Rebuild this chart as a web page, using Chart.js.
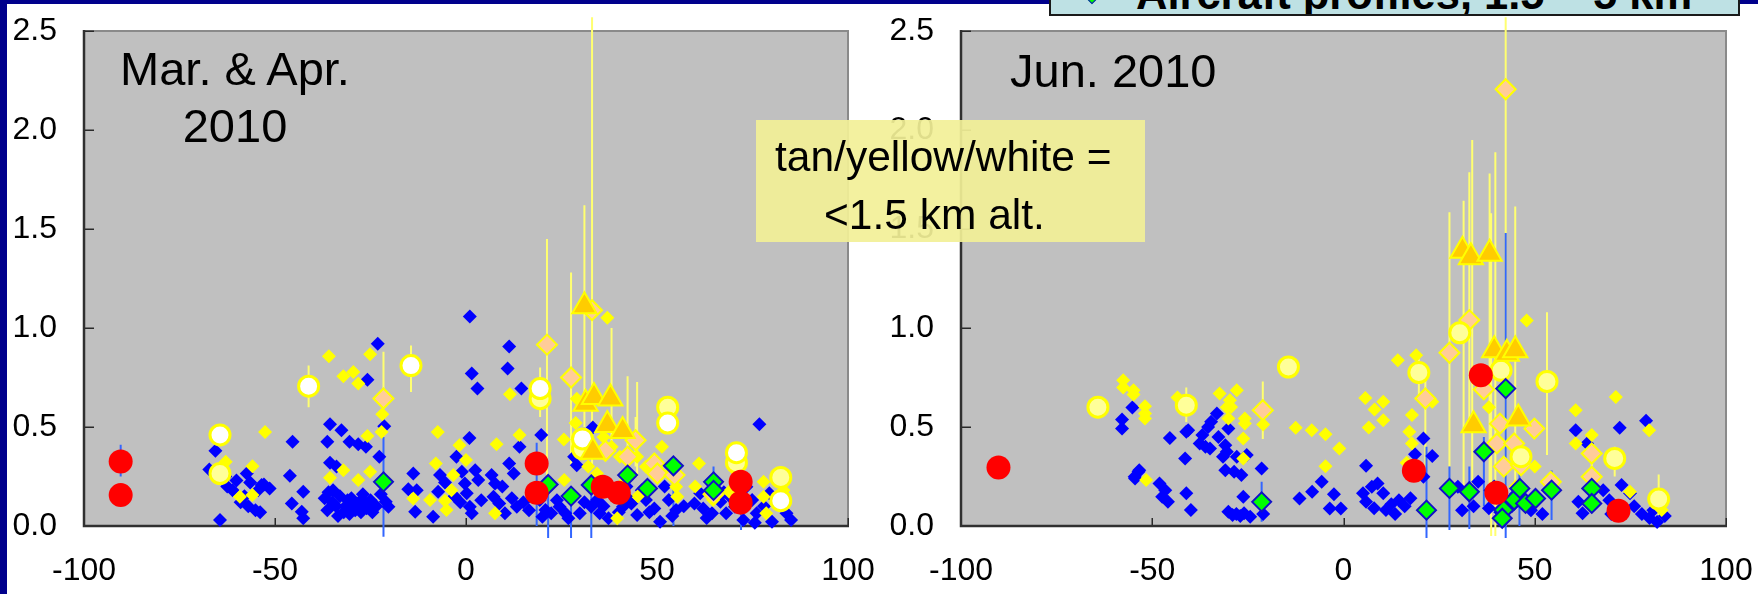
<!DOCTYPE html>
<html>
<head>
<meta charset="utf-8">
<title>Aerosol scatter, Mar./Apr. and Jun. 2010</title>
<script src="https://cdn.jsdelivr.net/npm/chart.js@4.4.1/dist/chart.umd.min.js"></script>
<style>
  html, body { margin: 0; padding: 0; width: 1758px; height: 594px; overflow: hidden; background: #ffffff; }
  body { font-family: "Liberation Sans", Arial, Helvetica, sans-serif; color: #000; position: relative; }
  canvas.panel { position: absolute; top: 0; z-index: 1; }
  #marApr { left: 0; }
  #jun { left: 878px; }
  .navy-top { position: absolute; left: 0; top: 0; width: 1758px; height: 4px; background: #00008c; z-index: 3; }
  .navy-left { position: absolute; left: 0; top: 0; width: 7px; height: 594px; background: #00008c; z-index: 3; }
  .title { position: absolute; font-size: 47px; line-height: 1; white-space: nowrap; z-index: 2; }
  .note { position: absolute; left: 756px; top: 120px; width: 389px; height: 122px; background: rgba(242, 240, 151, 0.92); z-index: 2; }
  .note-line { position: absolute; font-size: 42.5px; line-height: 1; white-space: nowrap; z-index: 3; }
  .key { position: absolute; left: 1049px; top: -20px; width: 691px; height: 36px; box-sizing: border-box;
         border: 2px solid #1a1a1a; background: #bee1e4; overflow: hidden; z-index: 4; }
  .key-mark { position: absolute; left: 37.5px; top: 14.5px; width: 4px; height: 4px; background: #00ff00;
              border: 1.5px solid #1010c8; transform: rotate(45deg); }
  .key-text { position: absolute; left: 85px; top: -9.5px; font-size: 43.5px; font-weight: bold; line-height: 1; white-space: nowrap; }
</style>
</head>
<body>
<canvas id="marApr" class="panel" width="880" height="594"></canvas>
<canvas id="jun" class="panel" width="880" height="594"></canvas>

<div class="navy-top"></div>
<div class="navy-left"></div>

<div class="title" style="left:95px; top:45px; width:280px; text-align:center;">Mar. &amp; Apr.</div>
<div class="title" style="left:95px; top:102px; width:280px; text-align:center;">2010</div>
<div class="title" style="left:1010px; top:47px;">Jun. 2010</div>

<div class="note"></div>
<div class="note-line" style="left:775px; top:135.5px;">tan/yellow/white =</div>
<div class="note-line" style="left:824px; top:193.5px;">&lt;1.5 km alt.</div>

<div class="key"><div class="key-mark"></div><div class="key-text">Aircraft profiles, 1.5 – 5 km</div></div>

<script>
// ---------- axes ----------
const xRange = [-100, 100];
const xTickStep = 10;
const xTickLabels = [-100, -50, 0, 50, 100];
const yRange = [0, 2.5];
const yTickStep = 0.5;

// ---------- Mar. & Apr. 2010 ----------
const marAprBlue = [
  [-67.2,0.285],[-65.6,0.38],[-64.4,0.03],[-63,0.25],[-62.5,0.2],[-61.1,0.18],[-60.1,0.23],[-59,0.12],
  [-58,0.15],[-57.4,0.265],[-57,0.1],[-56.5,0.22],[-55.1,0.08],[-54.4,0.18],[-53.9,0.07],[-53.5,0.207],
  [-52.9,0.21],[-51.4,0.19],[-46.1,0.254],[-45.4,0.425],[-45.6,0.114],[-43,0.072],[-42.6,0.173],[-42.6,0.039],
  [-37,0.14],[-36.3,0.425],[-35.6,0.514],[-32.6,0.484],[-30.5,0.425],[-28.2,0.413],[-26.2,0.4],[-35.6,0.319],
  [-33.9,0.3],[-36.3,0.08],[-34.8,0.18],[-33,0.15],[-35,0.12],[-31.5,0.1],[-30,0.14],[-29,0.08],[-28,0.12],
  [-27,0.16],[-26,0.09],[-25,0.13],[-24.5,0.07],[-32,0.07],[-33.5,0.05],[-30.5,0.06],
  [-34,0.1],[-31,0.13],[-29.5,0.11],[-27.5,0.07],[-26.5,0.12],[-23.5,0.1],[-36,0.17],
  [-25.8,0.739],[-23.1,0.92],[-22.7,0.35],[-21.4,0.504],[-21,0.123],[-20.3,0.097],[-22.3,0.16],
  [-13.8,0.265],[-15.1,0.185],[-12.9,0.181],[-13.3,0.072],[-8.6,0.047],[-7.3,0.173],[-6.8,0.257],[-5.5,0.22],
  [-3,0.15],[-2.5,0.35],[-1.5,0.12],[-1.1,0.274],[-0.3,0.215],[0.2,0.165],[1.0,0.097],[1.5,0.064],[2.4,0.282],
  [3.2,0.232],[4,0.13],[1.0,1.058],[1.5,0.77],[3.0,0.694],[0.9,0.445],
  [6.7,0.257],[7.6,0.215],[7.2,0.148],[8.7,0.114],[9.5,0.2],[10.2,0.064],[10.9,0.795],[11.3,0.907],[11.3,0.316],
  [12,0.14],[12.5,0.265],[13.3,0.097],[14,0.4],[14.5,0.694],[15,0.12],[16.5,0.08],[17.5,0.15],
  [19.7,0.459],[20,0.047],[19.3,0.131],[20.8,0.081],[22.3,0.064],[23.8,0.13],[24.5,0.097],[26,0.064],
  [26.8,0.039],[28.3,0.35],[29,0.307],[29.8,0.064],[31,0.12],[32.8,0.097],[33.2,0.497],[34.3,0.131],[35,0.064],
  [36,0.1],[37.3,0.039],[38.8,0.148],[40,0.07],[41.1,0.097],[42,0.2],[43.3,0.114],[44.8,0.055],[46,0.18],[47.1,0.131],
  [48,0.07],[49.3,0.089],[50.8,0.022],[52,0.2],[53.1,0.131],[54,0.05],[55,0.081],[57,0.1],
  [59.8,0.114],[61.3,0.165],[62.1,0.089],[63,0.04],[64.4,0.064],[65.1,0.215],[66.6,0.123],[67.5,0.17],[68.1,0.064],[69,0.15],
  [70.4,0.097],[72.6,0.03],[73.4,0.198],[74.9,0.131],[76.1,0.064],[75.6,0.017],[76.8,0.514],[78,0.1],
  [79.4,0.165],[80.1,0.022],[81.5,0.13],[82.4,0.106],[83.9,0.064],[85.1,0.03]
];
const marAprYellow = [
  [-62.9,0.324],[-59.2,0.148],[-55.9,0.302],[-55.9,0.156],[-52.6,0.475],[-35.9,0.857],[-32.1,0.756],
  [-29.5,0.778],[-28.2,0.72],[-25.1,0.867],[-25.8,0.454],[-21.9,0.565],[-22.1,0.475],[-32.1,0.282],
  [-35.6,0.244],[-28.2,0.232],[-25.1,0.274],[-13.8,0.139],[-9.4,0.131],[-7.4,0.475],[-7.9,0.316],
  [-5.5,0.128],[-5.1,0.081],[-3.8,0.181],[-3.3,0.257],[-1.7,0.408],[0.0,0.333],[8,0.413],[7.6,0.064],
  [11.5,0.665],[14,0.459],[25.6,0.437],[25.7,0.232],[28.7,0.52],[29,0.643],[29.8,0.39],[32,0.3],
  [34.3,0.265],[36,0.45],[37,1.052],[38.1,0.4],[39.6,0.039],[40.3,0.35],[41.8,0.232],[44.8,0.35],
  [45,0.15],[47.1,0.299],[51.3,0.4],[53.1,0.265],[55,0.198],[55.3,0.148],[60,0.2],[61,0.316],
  [64.7,0.131],[68.9,0.173],[71,0.27],[77.9,0.223],[78.6,0.064],[77.9,0.148],[83.1,0.181]
];
const marAprTan = [
  [-21.6,0.644],[21.2,0.916],[27.5,0.75],[33,1.09],[44.4,0.433],[36.5,0.38],[42.3,0.35],[49.3,0.316],
  [50.1,0.265],[54.6,0.257],[64.8,0.16]
];
const marAprTriangle = [[31,1.11],[31.3,0.618],[33.5,0.652],[37.8,0.644],[37,0.51],[41,0.48],[33.2,0.375]];
const marAprWhite = [[-64.4,0.46],[-41.2,0.706],[-14.4,0.81],[19.4,0.694],[30.5,0.44],[52.8,0.52],[70.8,0.37],[82.4,0.128]];
const marAprPale = [[-64.4,0.265],[19.4,0.643],[30.5,0.39],[52.8,0.6],[70.8,0.32],[82.4,0.245]];
const marAprGreen = [
  [-21.6,0.223],[21.5,0.21],[27.5,0.151],[32.8,0.207],[40.8,0.15],[42.3,0.257],[47.5,0.19],[54.3,0.304],
  [64.8,0.223],[64.8,0.18]
];
const marAprRed = [[-90.4,0.326],[-90.4,0.156],[18.5,0.316],[18.5,0.168],[35.8,0.198],[40,0.168],[71.9,0.224],[71.9,0.118]];
// error ranges: [x, low, high]
const marAprYellowBars = [
  [-21.6,0.6,0.88],[21.2,0.2,1.45],[27.5,0.3,1.28],[33,0.3,2.57],[44.4,0.3,0.55],
  [31,0.5,1.62],[38.1,0.4,1.0],[42.3,0.3,0.756],[44.8,0.25,0.727],
  [-41.2,0.6,0.81],[-14.4,0.677,0.912],[19.4,0.55,0.8],[82.4,0.08,0.3]
];
const marAprBlueBars = [
  [-21.6,-0.054,0.45],[21.5,-0.06,0.2],[27.5,-0.06,0.15],[32.8,-0.06,0.2],[54.3,0.0,0.3],[64.8,0.2,0.3],
  [-90.4,0.25,0.41],[18.5,0.0,0.42],[72,-0.02,0.2]
];

// ---------- Jun. 2010 ----------
const junBlue = [
  [-57.9,0.538],[-57.9,0.492],[-55.2,0.598],[-53.4,0.282],[-54.6,0.249],[-53.6,0.274],[-54.5,0.24],
  [-48.1,0.215],[-46.6,0.181],[-47.4,0.148],[-45.9,0.123],[-45.4,0.445],[-41.1,0.476],[-40.6,0.484],
  [-41.4,0.341],[-41.1,0.165],[-39.9,0.081],[-37.6,0.417],[-36.9,0.459],[-35.4,0.5],[-34.6,0.526],
  [-33.1,0.568],[-36.1,0.4],[-34.9,0.391],[-32.7,0.45],[-30.9,0.408],[-30.1,0.492],[-31.5,0.35],
  [-30.5,0.375],[-30.9,0.282],[-28.6,0.274],[-26.7,0.257],[-27.9,0.35],[-25.3,0.358],[-30.1,0.072],
  [-28,0.06],[-27,0.05],[-26,0.065],[-29,0.055],[-26.2,0.148],[-24.4,0.047],[-21.4,0.29],[-21,0.06],
  [-11.5,0.139],[-8.2,0.173],[-5.7,0.223],[-2.5,0.16],[-3.6,0.089],[-0.7,0.089],
  [5.9,0.304],[5.1,0.165],[7.4,0.198],[8.9,0.215],[10.4,0.165],[11.1,0.081],[5.9,0.123],[8,0.09],
  [12.5,0.11],[13.5,0.06],[14.5,0.13],[16,0.1],[17.5,0.14],[18.7,0.363],[20.9,0.442],[23.2,0.353],[20.9,0.249],
  [29.9,0.198],[31,0.08],[34,0.1],[35.2,0.223],[38,0.09],[41,0.07],[44,0.1],[45,0.16],[47,0.11],[49,0.08],[52,0.06],
  [60.7,0.484],[61.4,0.123],[62.5,0.064],[63.7,0.417],[65,0.1],[67.9,0.181],[69.5,0.13],[70,0.06],
  [72.7,0.207],[74.9,0.165],[72.2,0.496],[76,0.1],[78,0.06],[79.1,0.531],[80,0.04],[81,0.08],[82,0.02],[84,0.05]
];
const junYellow = [
  [-57.6,0.736],[-57.6,0.699],[-54.9,0.686],[-54.9,0.664],[-51.9,0.605],[-51.9,0.568],[-51.9,0.543],
  [-51.6,0.232],[-43.4,0.649],[-32.4,0.669],[-27.9,0.686],[-29.7,0.635],[-29.4,0.601],[-30.5,0.6],
  [-30.1,0.543],[-25.8,0.543],[-25.8,0.518],[-26.2,0.442],[-26.2,0.341],[-21,0.512],[-12.5,0.496],
  [-8.3,0.484],[-4.7,0.464],[-1.1,0.391],[-4.7,0.302],[5.7,0.646],[10.4,0.627],[8.1,0.588],[10.4,0.534],
  [6.6,0.497],[14.2,0.837],[19,0.862],[17.9,0.56],[17.2,0.476],[17.9,0.417],[16.5,0.32],[23.2,0.627],
  [38,0.6],[45,0.2],[47.9,1.038],[50,0.3],[60.7,0.585],[60.7,0.417],[64.9,0.459],[71.2,0.652],
  [74.9,0.173],[79.9,0.484],[83.2,0.081]
];
const junTan = [
  [-21.1,0.585],[21.4,0.644],[27.7,0.875],[32.9,1.04],[36.7,0.69],[42.4,2.206],[40.9,0.517],[40.1,0.417],
  [44.6,0.417],[49.9,0.492],[41.9,0.3],[46.4,0.307],[54.2,0.223],[64.9,0.366],[64.9,0.249]
];
const junTriangle = [[31.1,1.39],[33.3,1.357],[38.2,1.375],[39.4,0.887],[42.7,0.87],[44.9,0.887],[34,0.509],[45.7,0.543]];
const junPale = [
  [-64.2,0.6],[-41.1,0.61],[-14.4,0.803],[19.7,0.775],[30.4,0.976],[41.2,0.786],[46.4,0.35],[53.2,0.73],
  [70.9,0.341],[82.4,0.136]
];
const junGreen = [
  [-21.4,0.122],[21.7,0.08],[27.7,0.19],[32.9,0.173],[36.7,0.375],[39.4,0.18],[42.4,0.694],[41.9,0.081],
  [41.5,0.039],[44.6,0.131],[46.1,0.19],[47.6,0.114],[50.2,0.139],[54.4,0.181],[64.9,0.19],[64.9,0.114]
];
const junRed = [[-90.2,0.296],[18.4,0.279],[35.9,0.761],[39.96,0.168],[71.9,0.077]];
const junYellowBars = [
  [-21.1,0.44,0.73],[21.4,0.3,0.75],[27.7,0.3,1.584],[32.9,0.5,1.786],[42.4,0.0,2.57],[64.9,0.2,0.45],
  [31.4,0.2,1.643],[33.65,0.2,1.949],[38.2,0.2,1.78],[38.6,-0.05,1.58],[39.7,-0.05,1.887],[44.9,0.2,1.614],
  [-41.1,0.525,0.7],[19.7,0.635,0.85],[53.2,0.358,1.08],[70.9,0.25,0.4],[82.4,0.0,0.26]
];
const junBlueBars = [
  [-21.4,0.022,0.223],[21.7,-0.06,0.4],[27.7,-0.02,0.3],[32.9,-0.015,0.3],[36.7,0.1,0.45],
  [42.4,-0.06,1.48],[46,0.0,0.3],[54.4,0.03,0.28]
];

// ---------- drawing ----------
const FONT = '"Liberation Sans", Arial, Helvetica, sans-serif';
Chart.defaults.font.family = FONT;
Chart.defaults.color = '#000';

const toPoints = a => a.map(([x, y]) => ({x, y}));
const toSegments = a => a.flatMap(([x, lo, hi]) => [{x, y: lo}, {x, y: hi}, {x, y: null}]);

const MARK = {
  red:      {pointStyle: 'circle',   pointRadius: 12,  pointBackgroundColor: '#ff0000', pointBorderWidth: 0},
  green:    {pointStyle: 'rectRot',  pointRadius: 9.5, pointBackgroundColor: '#00ff00', pointBorderColor: '#1010c8', pointBorderWidth: 2},
  triangle: {pointStyle: 'triangle', pointRadius: 14,  pointBackgroundColor: '#ffcc00', pointBorderColor: '#ffff00', pointBorderWidth: 2},
  white:    {pointStyle: 'circle',   pointRadius: 10,  pointBackgroundColor: '#ffffff', pointBorderColor: '#ffff00', pointBorderWidth: 3},
  pale:     {pointStyle: 'circle',   pointRadius: 10,  pointBackgroundColor: '#ffff99', pointBorderColor: '#ffff00', pointBorderWidth: 3},
  tan:      {pointStyle: 'rectRot',  pointRadius: 10,  pointBackgroundColor: '#ffcc99', pointBorderColor: '#ffff00', pointBorderWidth: 2},
  yellow:   {pointStyle: 'rectRot',  pointRadius: 7,   pointBackgroundColor: '#ffff00', pointBorderWidth: 0},
  blue:     {pointStyle: 'rectRot',  pointRadius: 7,   pointBackgroundColor: '#0000ff', pointBorderWidth: 0}
};

function markers(data, style) {
  return Object.assign({data: toPoints(data), showLine: false, clip: false, pointHoverRadius: 0}, style);
}
function errorBars(data, color) {
  return {data: toSegments(data), showLine: true, spanGaps: false, borderColor: color, borderWidth: 2,
          pointRadius: 0, pointHoverRadius: 0, clip: false};
}

// grey plot field, frame and inward tick marks
const panelFrame = {
  id: 'panelFrame',
  beforeDatasetsDraw(chart) {
    const {ctx, chartArea: a, scales: {x, y}} = chart;
    ctx.save();
    ctx.fillStyle = '#c0c0c0';
    ctx.fillRect(a.left, a.top, a.right - a.left, a.bottom - a.top);
    ctx.strokeStyle = '#8a8a8a';
    ctx.lineWidth = 2;
    ctx.beginPath();
    ctx.moveTo(a.left, a.top); ctx.lineTo(a.right, a.top); ctx.lineTo(a.right, a.bottom);
    ctx.stroke();
    ctx.strokeStyle = '#2a2a2a';
    ctx.lineWidth = 1.5;
    ctx.beginPath();
    x.ticks.forEach(t => { const p = Math.round(x.getPixelForValue(t.value)) + 0.25; ctx.moveTo(p, a.bottom); ctx.lineTo(p, a.bottom - 8); });
    y.ticks.forEach(t => { const p = Math.round(y.getPixelForValue(t.value)) + 0.25; ctx.moveTo(a.left, p); ctx.lineTo(a.left + 10, p); });
    ctx.stroke();
    ctx.strokeStyle = '#303030';
    ctx.lineWidth = 2.5;
    ctx.beginPath();
    ctx.moveTo(a.left, a.top - 1); ctx.lineTo(a.left, a.bottom); ctx.lineTo(a.right + 1, a.bottom);
    ctx.stroke();
    ctx.restore();
  }
};

function makePanel(id, yAxisWidth, datasets) {
  return new Chart(document.getElementById(id), {
    type: 'scatter',
    data: {datasets},
    options: {
      responsive: false,
      animation: false,
      devicePixelRatio: 1,
      events: [],
      layout: {autoPadding: false, padding: {left: 0, top: 31, right: 32, bottom: 0}},
      plugins: {legend: {display: false}, tooltip: {enabled: false}},
      scales: {
        x: {
          type: 'linear', min: xRange[0], max: xRange[1],
          afterFit: s => { s.height = 68; },
          ticks: {stepSize: xTickStep, autoSkip: false, maxRotation: 0, padding: 0, font: {size: 32}, color: '#000',
                  callback: v => xTickLabels.includes(v) ? String(v) : null},
          grid: {display: false, drawTicks: true, tickLength: 26},
          border: {display: false}
        },
        y: {
          type: 'linear', min: yRange[0], max: yRange[1],
          afterFit: s => { s.width = yAxisWidth; },
          ticks: {stepSize: yTickStep, padding: 0, font: {size: 32}, color: '#000', callback: v => Number(v).toFixed(1)},
          grid: {display: false, drawTicks: true, tickLength: 27},
          border: {display: false}
        }
      }
    },
    plugins: [panelFrame]
  });
}

// first dataset is drawn on top
makePanel('marApr', 84, [
  markers(marAprRed, MARK.red),
  markers(marAprGreen, MARK.green),
  markers(marAprTriangle, MARK.triangle),
  markers(marAprWhite, MARK.white),
  markers(marAprPale, MARK.pale),
  markers(marAprTan, MARK.tan),
  markers(marAprYellow, MARK.yellow),
  markers(marAprBlue, MARK.blue),
  errorBars(marAprBlueBars, '#3366ff'),
  errorBars(marAprYellowBars, '#ffff70')
]);

makePanel('jun', 83, [
  markers(junRed, MARK.red),
  markers(junGreen, MARK.green),
  markers(junTriangle, MARK.triangle),
  markers(junPale, MARK.pale),
  markers(junTan, MARK.tan),
  markers(junYellow, MARK.yellow),
  markers(junBlue, MARK.blue),
  errorBars(junBlueBars, '#3366ff'),
  errorBars(junYellowBars, '#ffff70')
]);
</script>
</body>
</html>
